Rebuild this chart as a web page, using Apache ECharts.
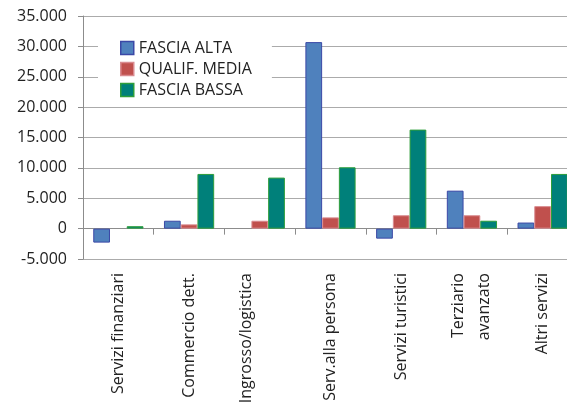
<!DOCTYPE html>
<html>
<head>
<meta charset="utf-8">
<script src="https://cdn.jsdelivr.net/npm/echarts@6/dist/echarts.min.js"></script>
<style>
html,body{margin:0;padding:0;background:#fff;}
#c{width:567px;height:410px;}
</style>
</head>
<body>
<div id="c"></div>
<script>
var categories = ['Servizi finanziari', 'Commercio dett.', 'Ingrosso/logistica\n', 'Serv.alla persona', 'Servizi turistici', 'Terziario\navanzato', 'Altri servizi'];
var seriesNames = ['FASCIA ALTA', 'QUALIF. MEDIA', 'FASCIA BASSA'];
var fasciaAlta = [-2300, 1300, null, 30700, -1650, 6250, 1000];
var qualifMedia = [null, 700, 1300, 1850, 2200, 2200, 3700];
var fasciaBassa = [400, 9000, 8400, 10100, 16300, 1300, 9000];
var yMin = -5000, yMax = 35000, yStep = 5000;

var FONT = 'Open Sans';
function fmt(v){
  var s = Math.abs(v).toString().replace(/\B(?=(\d{3})+(?!\d))/g, '.');
  return (v < 0 ? '-' : '') + s;
}
var chart = echarts.init(document.getElementById('c'), null, {renderer:'canvas'});
var fills = ['#4F81BD', '#C0504D', '#00807A'];
var borders = ['#3B48A6', '#D98A8F', '#2E9E3A'];
var dataSets = [fasciaAlta, qualifMedia, fasciaBassa];
chart.setOption({
  animation: false,
  backgroundColor: '#fff',
  grid: {left: 83, top: 16, bottom: 151, right: -11, containLabel: false, outerBoundsMode: 'none'},
  legend: {
    orient: 'vertical', left: 98, top: 32,
    padding: [8, 20, 8, 22],
    backgroundColor: '#fff',
    itemWidth: 13, itemHeight: 13, itemGap: 5,
    textStyle: {fontFamily: FONT, fontSize: 16, color: '#222', lineHeight: 16},
    data: seriesNames.map(function(n, i){ return {name: n, icon: 'rect', itemStyle: {color: fills[i], borderColor: borders[i], borderWidth: 1.5}}; })
  },
  xAxis: {
    type: 'category', data: categories,
    axisLine: {onZero: true, lineStyle: {color: '#8c8c8c', width: 1}},
    axisTick: {show: true, length: 6, lineStyle: {color: '#8c8c8c'}},
    axisLabel: {rotate: 90, margin: 14, fontFamily: FONT, fontSize: 16, color: '#222', interval: 0, lineHeight: 26},
    splitLine: {show: false}
  },
  yAxis: {
    type: 'value', min: yMin, max: yMax, interval: yStep,
    axisLine: {show: true, lineStyle: {color: '#8c8c8c'}},
    axisTick: {show: true, length: 5, lineStyle: {color: '#8c8c8c'}},
    axisLabel: {formatter: fmt, fontFamily: FONT, fontSize: 16, color: '#222', margin: 16},
    splitLine: {show: true, lineStyle: {color: '#ababab', width: 1}}
  },
  series: dataSets.map(function(d, i){
    return {
      name: seriesNames[i], type: 'bar', data: d,
      barGap: '0%', barCategoryGap: '29%',
      itemStyle: {color: fills[i], borderColor: borders[i], borderWidth: 1}
    };
  })
});
</script>
</body>
</html>
